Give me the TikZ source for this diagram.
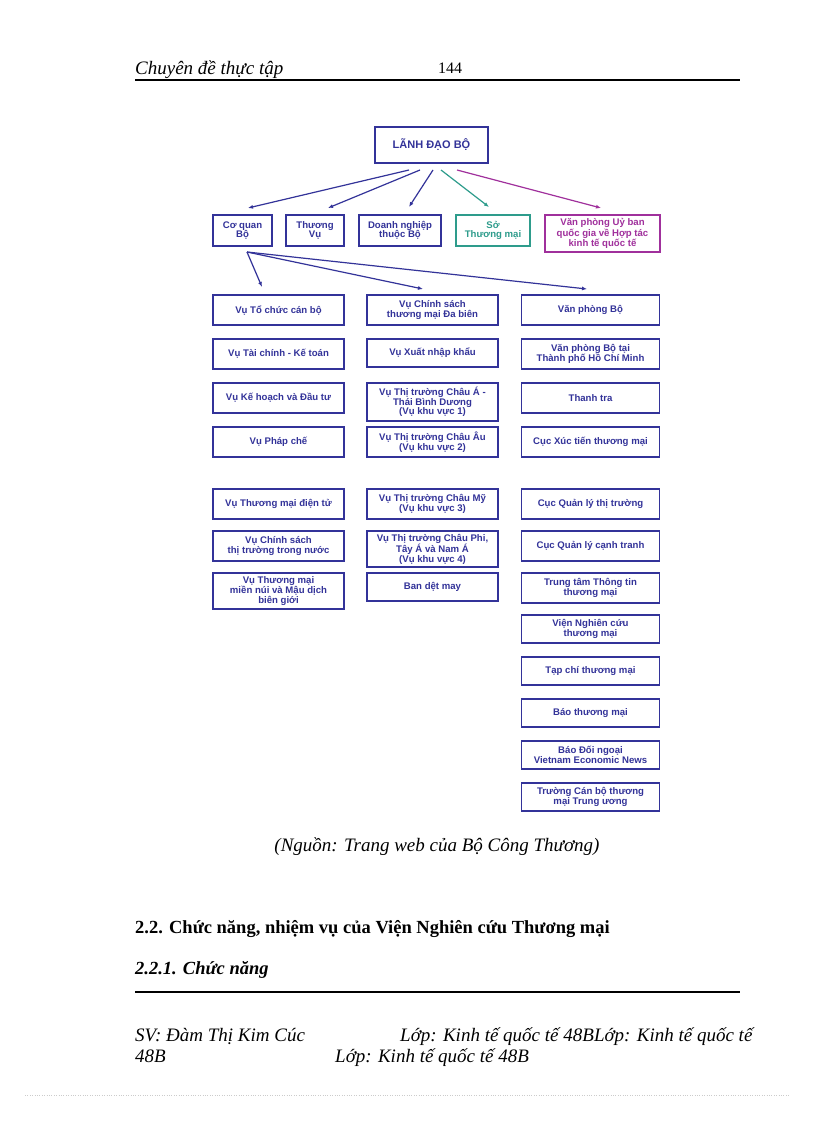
\documentclass[tikz,border=0pt]{standalone}
\usepackage{fontspec}
\setmainfont{Liberation Serif}
\newfontfamily\bx{Liberation Sans}
\usetikzlibrary{arrows.meta}
\definecolor{nv}{HTML}{333399}
\definecolor{tl}{HTML}{2E9C8C}
\definecolor{mg}{HTML}{A0309C}
\begin{document}
\begin{tikzpicture}[x=1pt,y=-1pt,
 b/.style={draw=nv,line width=1.3pt,text=nv,font=\bx\bfseries\fontsize{9.6}{9.4}\selectfont,align=center,inner sep=0pt},
 ar/.style={-{Latex[length=5pt,width=4pt]},line width=1.2pt,draw=nv},
 tx/.style={font=\fontsize{19}{22}\selectfont,anchor=base west,inner sep=0}]
\useasboundingbox[fill=white] (0,0) rectangle (816,1123);
% header
\node[tx,font=\itshape\fontsize{19}{22}\selectfont] (h1) at (135,75) {Chuyên đề thực tập};
\node[tx,font=\fontsize{16}{19}\selectfont] (h2) at (438,74) {144};
\draw[line width=1.2pt] (135,80) -- (740,80);
% top
\node[b,minimum width=113,minimum height=36,font=\bx\bfseries\fontsize{11}{12}\selectfont] (top) at (431.5,145) {LÃNH ĐẠO BỘ};
\node[b,minimum width=59,minimum height=31] (cq) at (242.5,230.5) {Cơ quan\\Bộ};
\node[b,minimum width=58,minimum height=31] (tv) at (315,230.5) {Thương\\Vụ};
\node[b,minimum width=82,minimum height=31] (dn) at (400,230.5) {Doanh nghiệp\\thuộc Bộ};
\node[b,draw=tl,text=tl,minimum width=74,minimum height=31] (so) at (493,230.5) {Sở\\Thương mại};
\node[b,draw=mg,text=mg,minimum width=115,minimum height=37] (vp) at (602.5,233.5) {Văn phòng Uỷ ban\\quốc gia về Hợp tác\\kinh tế quốc tế};
\coordinate (t1) at (409,170); \coordinate (t2) at (420,170); \coordinate (t3) at (433,170);
\coordinate (t4) at (441,170); \coordinate (t5) at (457,170);
\coordinate (e1) at (248,208); \coordinate (e2) at (328,208); \coordinate (e3) at (409,207);
\coordinate (e4) at (489,207); \coordinate (e5) at (601,208);
\draw[ar] (t1) -- (e1); \draw[ar] (t2) -- (e2); \draw[ar] (t3) -- (e3);
\draw[ar,draw=tl] (t4) -- (e4); \draw[ar,draw=mg] (t5) -- (e5);
% columns
\newcommand\C[5]{\node[b,minimum width=131,minimum height=#3-#2] (#4) at (#1,{(#2+#3)/2}) {#5};}
\C{278.5}{295}{325}{a1}{Vụ Tổ chức cán bộ}
\C{278.5}{339}{369}{a2}{Vụ Tài chính - Kế toán}
\C{278.5}{383}{413}{a3}{Vụ Kế hoạch và Đầu tư}
\C{278.5}{427}{457}{a4}{Vụ Pháp chế}
\C{278.5}{489}{519}{a5}{Vụ Thương mại điện tử}
\C{278.5}{531}{561}{a6}{Vụ Chính sách\\thị trường trong nước}
\C{278.5}{573}{609}{a7}{Vụ Thương mại\\miền núi và Mậu dịch\\biên giới}
\C{432.5}{295}{325}{b1}{Vụ Chính sách\\thương mại Đa biên}
\C{432.5}{339}{367}{b2}{Vụ Xuất nhập khẩu}
\C{432.5}{383}{421}{b3}{Vụ Thị trường Châu Á -\\Thái Bình Dương\\(Vụ khu vực 1)}
\C{432.5}{427}{457}{b4}{Vụ Thị trường Châu Âu\\(Vụ khu vực 2)}
\C{432.5}{489}{519}{b5}{Vụ Thị trường Châu Mỹ\\(Vụ khu vực 3)}
\C{432.5}{531}{567}{b6}{Vụ Thị trường Châu Phi,\\Tây Á và Nam Á\\(Vụ khu vực 4)}
\C{432.5}{573}{601}{b7}{Ban dệt may}
\newcommand\D[4]{\node[b,minimum width=138,minimum height=#2-#1] (#3) at (590.5,{(#1+#2)/2}) {#4};}
\D{295}{325}{c1}{Văn phòng Bộ}
\D{339}{369}{c2}{Văn phòng Bộ tại\\Thành phố Hồ Chí Minh}
\D{383}{413}{c3}{Thanh tra}
\D{427}{457}{c4}{Cục Xúc tiến thương mại}
\D{489}{519}{c5}{Cục Quản lý thị trường}
\D{531}{561}{c6}{Cục Quản lý cạnh tranh}
\D{573}{603}{c7}{Trung tâm Thông tin\\thương mại}
\D{615}{643}{c8}{Viện Nghiên cứu\\thương mại}
\D{657}{685}{c9}{Tạp chí thương mại}
\D{699}{727}{c10}{Báo thương mại}
\D{741}{769}{c11}{Báo Đối ngoại\\Vietnam Economic News}
\D{783}{811}{c12}{Trường Cán bộ thương\\mại Trung ương}
\coordinate (s) at (247,252);
\coordinate (f1) at (262,287); \coordinate (f2) at (423,289); \coordinate (f3) at (587,289);
\draw[ar] (s) -- (f1); \draw[ar] (s) -- (f2); \draw[ar] (s) -- (f3);
% text
\node[font=\itshape\fontsize{19}{22}\selectfont] (cap) at (437,847) {(Nguồn: Trang web của Bộ Công Thương)};
\node[tx,font=\bfseries\fontsize{18.5}{22}\selectfont] (s1) at (135,933) {2.2. Chức năng, nhiệm vụ của Viện Nghiên cứu Thương mại};
\node[tx,font=\bfseries\itshape\fontsize{18.5}{22}\selectfont] (s2) at (135,974) {2.2.1. Chức năng};
\draw[line width=1.2pt] (135,992) -- (740,992);
\node[tx,font=\itshape\fontsize{19}{22}\selectfont] (f1t) at (135,1041) {SV: Đàm Thị Kim Cúc};
\node[tx,font=\itshape\fontsize{19}{22}\selectfont] (f2t) at (400,1041) {Lớp: Kinh tế quốc tế 48BLớp: Kinh tế quốc tế};
\node[tx,font=\itshape\fontsize{19}{22}\selectfont] (f3t) at (135,1062) {48B};
\node[tx,font=\itshape\fontsize{19}{22}\selectfont] (f4t) at (335,1062) {Lớp: Kinh tế quốc tế 48B};
\draw[gray!40,dotted] (25,1095) -- (790,1095);
\end{tikzpicture}
\end{document}
